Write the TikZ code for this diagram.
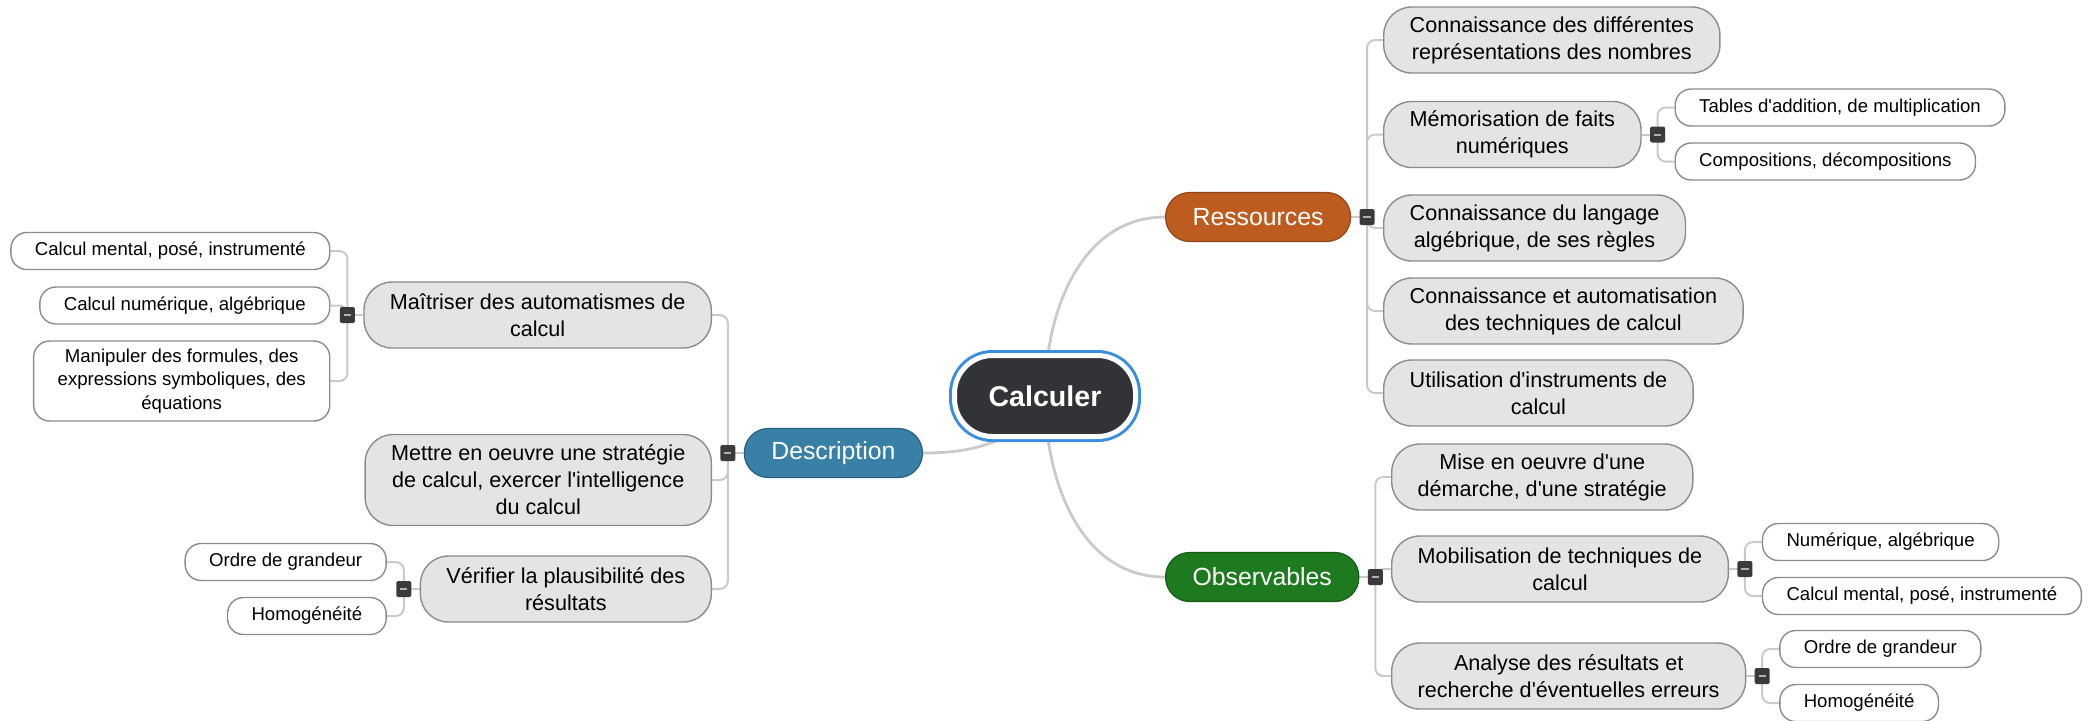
\documentclass[tikz,border=0pt]{standalone}
\usepackage{fontspec}
\setmainfont{Liberation Sans}[Ligatures=TeXOff]
\usetikzlibrary{positioning, backgrounds}
\definecolor{resorange}{HTML}{BE5C20}
\definecolor{descblue}{HTML}{3880A6}
\definecolor{obsgreen}{HTML}{1E7A1E}
\definecolor{hubdark}{HTML}{323337}
\definecolor{ringblue}{HTML}{3A8EE0}
\definecolor{topicgray}{HTML}{E4E4E4}
\definecolor{edgegray}{HTML}{8C8C8C}
\definecolor{linkgray}{HTML}{CACACA}
\definecolor{foldgray}{HTML}{3A3A3C}

\begin{document}
\begin{tikzpicture}[x=0.5pt, y=-0.5pt,
		hub/.style={fill=hubdark, draw=white, line width=2.5pt, rounded corners=19pt,
			preaction={draw=ringblue, line width=5.5pt},
			minimum width=90.5pt, minimum height=40.5pt, text=white,
			font=\fontsize{14.3}{17}\selectfont\bfseries},
		branch/.style={fill=#1, draw=#1!75!black, line width=0.6pt, rounded corners=12pt,
			minimum height=24.5pt, inner xsep=13.5pt, text=white,
			font=\fontsize{12.4}{15}\selectfont},
		topic/.style={fill=topicgray, draw=edgegray, line width=0.7pt, rounded corners=14pt,
			minimum height=33pt, inner xsep=13pt, inner ysep=3pt, align=center,
			font=\fontsize{10.8}{13.5}\selectfont},
		leaf/.style={fill=white, draw=edgegray, line width=0.7pt, rounded corners=8pt,
			minimum height=18.5pt, inner xsep=12pt, inner ysep=3pt, align=center,
			font=\fontsize{9.3}{11.6}\selectfont},
		fold/.style={fill=foldgray, rounded corners=1pt, minimum width=7.5pt,
			minimum height=8pt, inner sep=0pt,
			path picture={\draw[white!70!black, line width=1pt]
				([xshift=-1.8pt]path picture bounding box.center) --
				([xshift=1.8pt]path picture bounding box.center);}},
		trunk/.style={draw=linkgray, line width=1.4pt},
		twig/.style={draw=linkgray, line width=1pt, rounded corners=4pt}]
	\useasboundingbox (0,0) rectangle (2096,720);
	% centre and main branches
	\node[hub] (calc) at (1045,396) {Calculer};
	\node[branch=resorange, anchor=west] (res) at (1165,217) {Ressources};
	\node[branch=obsgreen, anchor=west] (obs) at (1165,577) {Observables};
	\node[branch=descblue, anchor=east] (desc) at (923,453) {Description};
	\node[fold, right=4pt of res] (resF) {};
	\node[fold, right=4pt of obs] (obsF) {};
	\node[fold, left=4pt of desc] (descF) {};
	% Ressources
	\node[topic, anchor=west] (res1) at (1383,40) {Connaissance des différentes\\représentations des nombres};
	\node[topic, anchor=west] (res2) at (1383,134.5) {Mémorisation de faits\\numériques};
	\node[topic, anchor=west] (res3) at (1383,228) {Connaissance du langage\\algébrique, de ses règles};
	\node[topic, anchor=west] (res4) at (1383,311) {Connaissance et automatisation\\des techniques de calcul};
	\node[topic, anchor=west] (res5) at (1383,393) {Utilisation d'instruments de\\calcul};
	\node[fold, right=4pt of res2] (res2F) {};
	\node[leaf, right=4.5pt of res2F, yshift=13.5pt] (res2a) {Tables d'addition, de multiplication};
	\node[leaf, right=4.5pt of res2F, yshift=-13.5pt] (res2b) {Compositions, décompositions};
	% Observables
	\node[topic, anchor=west] (obs1) at (1391,477) {Mise en oeuvre d'une\\démarche, d'une stratégie};
	\node[topic, anchor=west] (obs2) at (1391,569) {Mobilisation de techniques de\\calcul};
	\node[topic, anchor=west] (obs3) at (1391,676) {Analyse des résultats et\\recherche d'éventuelles erreurs};
	\node[fold, right=4pt of obs2] (obs2F) {};
	\node[leaf, right=4.5pt of obs2F, yshift=13.5pt] (obs2a) {Numérique, algébrique};
	\node[leaf, right=4.5pt of obs2F, yshift=-13.5pt] (obs2b) {Calcul mental, posé, instrumenté};
	\node[fold, right=4pt of obs3] (obs3F) {};
	\node[leaf, right=4.5pt of obs3F, yshift=13.5pt] (obs3a) {Ordre de grandeur};
	\node[leaf, right=4.5pt of obs3F, yshift=-13.5pt] (obs3b) {Homogénéité};
	% Description
	\node[topic, anchor=east] (desc1) at (712,315) {Maîtriser des automatismes de\\calcul};
	\node[topic, anchor=east, minimum height=45.5pt] (desc2) at (712,480) {Mettre en oeuvre une stratégie\\de calcul, exercer l'intelligence\\du calcul};
	\node[topic, anchor=east] (desc3) at (712,589) {Vérifier la plausibilité des\\résultats};
	\node[fold, left=4pt of desc1] (desc1F) {};
	\node[leaf, left=4.5pt of desc1F, yshift=32pt] (desc1a) {Calcul mental, posé, instrumenté};
	\node[leaf, left=4.5pt of desc1F, yshift=4.75pt] (desc1b) {Calcul numérique, algébrique};
	\node[leaf, left=4.5pt of desc1F, yshift=-33pt, minimum height=40pt] (desc1c) {Manipuler des formules, des\\expressions symboliques, des\\équations};
	\node[fold, left=4pt of desc3] (desc3F) {};
	\node[leaf, left=4.5pt of desc3F, yshift=13.5pt] (desc3a) {Ordre de grandeur};
	\node[leaf, left=4.5pt of desc3F, yshift=-13.5pt] (desc3b) {Homogénéité};
	% connectors
	\begin{scope}[on background layer]
		\draw[trunk] (calc.center) to[out=90, in=180] (res.west);
		\draw[trunk] (calc.center) to[out=-90, in=180] (obs.west);
		\draw[trunk] (calc.center) to[out=-120, in=0] (desc.east);
		\draw[twig] (res.east) -- (resF.center);
		\draw[twig] (obs.east) -- (obsF.center);
		\draw[twig] (desc.west) -- (descF.center);
		\foreach \n in {1,...,5} \draw[twig] (resF.center) |- (res\n.west);
		\foreach \n in {1,2,3} \draw[twig] (obsF.center) |- (obs\n.west);
		\foreach \n in {1,2,3} \draw[twig] (descF.center) |- (desc\n.east);
		\foreach \p/\kids in {res2/{a,b}, obs2/{a,b}, obs3/{a,b}}
			{
				\draw[twig] (\p.east) -- (\p F.center);
				\foreach \k in \kids \draw[twig] (\p F.center) |- (\p\k.west);
			}
		\foreach \p/\kids in {desc1/{a,b,c}, desc3/{a,b}}
			{
				\draw[twig] (\p.west) -- (\p F.center);
				\foreach \k in \kids \draw[twig] (\p F.center) |- (\p\k.east);
			}
	\end{scope}
\end{tikzpicture}
\end{document}
